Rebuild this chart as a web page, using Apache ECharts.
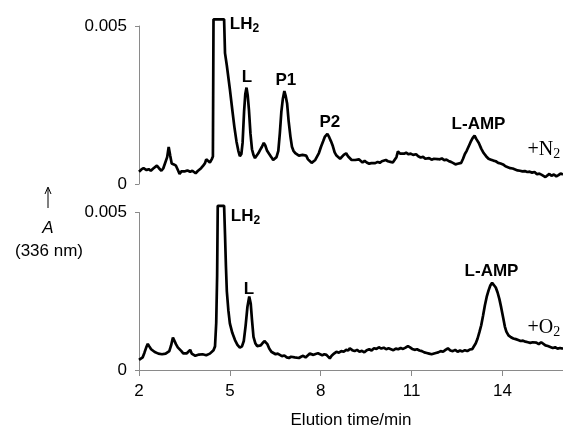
<!DOCTYPE html>
<html>
<head>
<meta charset="utf-8">
<style>html,body{margin:0;padding:0;background:#fff;}#c{width:563px;height:428px;}</style>
<script src="https://cdn.jsdelivr.net/npm/echarts@6/dist/echarts.min.js"></script>
</head>
<body>
<div id="c"></div>
<script>
// ---- Data ----
const xTicks = [2, 5, 8, 11, 14];
const yTicks = [0, 0.005];

// +N2 trace (upper)
const topTime = [2.00,2.08,2.15,2.25,2.32,2.39,2.47,2.53,2.59,2.66,2.74,2.80,2.86,2.93,2.98,3.03,3.08,3.15,3.22,3.28,3.34,3.40,3.45,3.52,3.60,3.69,3.76,3.82,3.87,3.94,4.00,4.05,4.12,4.18,4.22,4.28,4.34,4.40,4.44,4.46,4.81,4.84,4.90,5.00,5.08,5.15,5.22,5.28,5.33,5.38,5.42,5.47,5.51,5.55,5.59,5.63,5.68,5.73,5.78,5.83,5.88,5.94,6.00,6.06,6.12,6.17,6.23,6.30,6.37,6.43,6.48,6.54,6.60,6.65,6.70,6.75,6.80,6.84,6.89,6.94,7.00,7.05,7.10,7.16,7.22,7.28,7.34,7.40,7.46,7.52,7.58,7.64,7.70,7.76,7.82,7.88,7.94,8.01,8.08,8.14,8.22,8.28,8.34,8.40,8.46,8.52,8.58,8.64,8.70,8.76,8.84,8.90,8.96,9.02,9.08,9.14,9.20,9.26,9.32,9.38,9.45,9.52,9.60,9.67,9.73,9.80,9.88,9.95,10.02,10.08,10.15,10.22,10.30,10.38,10.44,10.50,10.55,10.62,10.68,10.75,10.82,10.90,10.97,11.05,11.15,11.22,11.30,11.38,11.45,11.51,11.58,11.66,11.74,11.80,11.86,11.93,12.00,12.08,12.15,12.22,12.30,12.38,12.45,12.52,12.58,12.64,12.70,12.76,12.82,12.88,12.95,13.02,13.08,13.14,13.22,13.30,13.38,13.46,13.54,13.62,13.70,13.78,13.86,13.94,14.02,14.10,14.18,14.26,14.34,14.42,14.50,14.58,14.66,14.74,14.82,14.90,14.98,15.06,15.14,15.22,15.30,15.36,15.42,15.48,15.55,15.62,15.70,15.78,15.85,15.92,16.00];
const topAbs = [0.00039,0.00046,0.00050,0.00044,0.00047,0.00042,0.00049,0.00046,0.00058,0.00050,0.00042,0.00049,0.00055,0.00085,0.00117,0.00090,0.00065,0.00062,0.00058,0.00045,0.00032,0.00040,0.00044,0.00040,0.00043,0.00039,0.00042,0.00036,0.00034,0.00041,0.00045,0.00050,0.00058,0.00066,0.00078,0.00072,0.00068,0.00078,0.00087,0.00521,0.00521,0.00414,0.00375,0.00300,0.00235,0.00180,0.00134,0.00105,0.00088,0.00095,0.00130,0.00230,0.00285,0.00305,0.00280,0.00235,0.00160,0.00110,0.00092,0.00082,0.00088,0.00097,0.00108,0.00118,0.00130,0.00122,0.00105,0.00095,0.00085,0.00076,0.00074,0.00085,0.00105,0.00160,0.00228,0.00270,0.00294,0.00280,0.00255,0.00200,0.00150,0.00118,0.00105,0.00098,0.00097,0.00090,0.00087,0.00092,0.00087,0.00090,0.00078,0.00074,0.00067,0.00072,0.00076,0.00080,0.00098,0.00118,0.00135,0.00150,0.00159,0.00148,0.00135,0.00120,0.00100,0.00090,0.00085,0.00080,0.00084,0.00092,0.00097,0.00088,0.00082,0.00076,0.00080,0.00076,0.00082,0.00078,0.00072,0.00068,0.00073,0.00068,0.00064,0.00066,0.00063,0.00066,0.00070,0.00067,0.00072,0.00071,0.00076,0.00072,0.00070,0.00068,0.00066,0.00085,0.00103,0.00096,0.00100,0.00096,0.00099,0.00094,0.00096,0.00092,0.00094,0.00088,0.00084,0.00086,0.00080,0.00078,0.00082,0.00077,0.00080,0.00083,0.00079,0.00078,0.00081,0.00075,0.00077,0.00073,0.00070,0.00066,0.00062,0.00064,0.00070,0.00067,0.00080,0.00095,0.00105,0.00118,0.00133,0.00146,0.00153,0.00142,0.00130,0.00112,0.00098,0.00088,0.00080,0.00077,0.00074,0.00072,0.00067,0.00065,0.00062,0.00056,0.00053,0.00050,0.00049,0.00046,0.00043,0.00042,0.00040,0.00041,0.00038,0.00039,0.00036,0.00038,0.00031,0.00033,0.00029,0.00024,0.00022,0.00028,0.00032,0.00026,0.00030,0.00024,0.00028,0.00033,0.00030];

// +O2 trace (lower)
const bottomTime = [2.00,2.06,2.12,2.18,2.24,2.29,2.34,2.40,2.46,2.52,2.58,2.64,2.70,2.76,2.82,2.88,2.94,3.00,3.06,3.12,3.17,3.22,3.28,3.34,3.40,3.46,3.52,3.58,3.64,3.69,3.74,3.80,3.86,3.92,3.98,4.04,4.10,4.16,4.22,4.28,4.34,4.40,4.46,4.51,4.55,4.58,4.60,4.81,4.84,4.87,4.90,4.95,5.00,5.08,5.17,5.25,5.33,5.40,5.46,5.52,5.58,5.64,5.69,5.73,5.78,5.84,5.90,5.96,6.02,6.08,6.14,6.19,6.24,6.30,6.37,6.44,6.51,6.58,6.65,6.72,6.80,6.88,6.95,7.02,7.08,7.14,7.20,7.28,7.35,7.42,7.50,7.57,7.64,7.69,7.76,7.83,7.91,7.98,8.05,8.12,8.19,8.25,8.30,8.36,8.44,8.52,8.60,8.68,8.76,8.84,8.91,8.96,9.04,9.12,9.20,9.28,9.36,9.44,9.52,9.60,9.68,9.76,9.84,9.92,10.00,10.08,10.16,10.24,10.32,10.40,10.48,10.56,10.64,10.72,10.80,10.88,10.95,11.02,11.10,11.18,11.26,11.34,11.42,11.50,11.58,11.66,11.72,11.80,11.88,11.96,12.04,12.12,12.20,12.28,12.36,12.44,12.52,12.60,12.68,12.76,12.84,12.92,13.00,13.06,13.12,13.18,13.24,13.30,13.36,13.42,13.48,13.54,13.60,13.66,13.72,13.78,13.84,13.90,13.96,14.02,14.08,14.13,14.20,14.28,14.36,14.44,14.52,14.60,14.68,14.76,14.84,14.92,15.00,15.06,15.12,15.20,15.28,15.34,15.42,15.50,15.58,15.66,15.74,15.82,15.90,16.00];
const bottomAbs = [0.00032,0.00030,0.00040,0.00055,0.00072,0.00083,0.00075,0.00066,0.00062,0.00057,0.00058,0.00052,0.00054,0.00050,0.00054,0.00052,0.00056,0.00060,0.00078,0.00103,0.00098,0.00082,0.00072,0.00066,0.00060,0.00053,0.00049,0.00053,0.00058,0.00064,0.00052,0.00048,0.00045,0.00051,0.00049,0.00047,0.00050,0.00045,0.00047,0.00044,0.00052,0.00058,0.00063,0.00075,0.00150,0.00300,0.00521,0.00521,0.00430,0.00330,0.00250,0.00190,0.00148,0.00118,0.00095,0.00080,0.00071,0.00075,0.00092,0.00140,0.00200,0.00233,0.00210,0.00160,0.00105,0.00085,0.00076,0.00074,0.00078,0.00085,0.00092,0.00095,0.00082,0.00068,0.00058,0.00054,0.00050,0.00052,0.00048,0.00044,0.00046,0.00040,0.00038,0.00042,0.00046,0.00040,0.00034,0.00038,0.00042,0.00045,0.00040,0.00046,0.00052,0.00055,0.00048,0.00051,0.00053,0.00050,0.00047,0.00050,0.00048,0.00042,0.00037,0.00045,0.00052,0.00058,0.00055,0.00060,0.00058,0.00064,0.00062,0.00069,0.00063,0.00060,0.00064,0.00058,0.00061,0.00056,0.00063,0.00066,0.00062,0.00069,0.00067,0.00072,0.00068,0.00071,0.00066,0.00069,0.00066,0.00063,0.00068,0.00066,0.00070,0.00067,0.00071,0.00076,0.00072,0.00067,0.00064,0.00066,0.00062,0.00060,0.00056,0.00054,0.00052,0.00050,0.00048,0.00054,0.00056,0.00060,0.00058,0.00064,0.00069,0.00062,0.00060,0.00064,0.00058,0.00062,0.00059,0.00063,0.00060,0.00065,0.00066,0.00072,0.00085,0.00100,0.00120,0.00142,0.00172,0.00205,0.00232,0.00252,0.00268,0.00277,0.00272,0.00262,0.00246,0.00225,0.00198,0.00168,0.00138,0.00122,0.00110,0.00104,0.00100,0.00098,0.00095,0.00092,0.00093,0.00090,0.00088,0.00086,0.00088,0.00092,0.00087,0.00082,0.00088,0.00084,0.00078,0.00076,0.00073,0.00070,0.00072,0.00068,0.00070,0.00068];

// Peak labels: [text, time, absorbance]
const topPeakLabels = [['L', 5.56, 0.00339], ['P1', 6.85, 0.00329], ['P2', 8.30, 0.00196], ['L-AMP', 13.21, 0.00190]];
const bottomPeakLabels = [['L', 5.63, 0.00257], ['L-AMP', 13.64, 0.00314]];

// ---- Chart ----
const SANS = "'Liberation Sans', Arial, Helvetica, sans-serif";
const SERIF = "'Liberation Serif', 'Times New Roman', serif";
const AXIS_GRAY = '#8a8a8a';
const FS = 17;

function zip(a, b) { return a.map((v, i) => [v, b[i]]); }

function peakPoints(list) {
  return list.map(([txt, t, v]) => ({
    coord: [t, v], value: txt,
    label: { formatter: txt, position: [0, 0], align: 'center', verticalAlign: 'middle' }
  }));
}

function subLabel(main, sub, t, v, dy, opts) {
  return {
    coord: [t, v],
    label: {
      position: [0, 0], align: 'left', verticalAlign: 'top', offset: [0, dy],
      formatter: '{m|' + main + '}{s|' + sub + '}',
      rich: {
        m: { fontFamily: opts.font, fontSize: opts.size, fontWeight: opts.weight, color: '#000', verticalAlign: 'top', lineHeight: opts.size },
        s: { fontFamily: opts.font, fontSize: opts.sub, fontWeight: opts.weight, color: '#000', verticalAlign: 'top', lineHeight: opts.sub, padding: [opts.drop, 0, 0, 0] }
      }
    }
  };
}

const boldLbl = { font: SANS, size: 17, sub: 12, weight: 'bold', drop: 7 };
const serifLbl = { font: SERIF, size: 20, sub: 14, weight: 'normal', drop: 8 };

function yAxisCfg(gi) {
  return {
    gridIndex: gi, type: 'value', min: 0, max: 0.005, interval: 0.005,
    axisLine: { show: true, lineStyle: { color: AXIS_GRAY, width: 1 } },
    axisTick: { show: true, length: 4, lineStyle: { color: AXIS_GRAY } },
    axisLabel: { color: '#000', fontFamily: SANS, fontSize: FS, margin: 12,
      customValues: yTicks, formatter: v => (v === 0 ? '0' : String(v)) },
    splitLine: { show: false }
  };
}

function markCfg(points) {
  return {
    symbol: 'circle', symbolSize: 0, silent: true,
    itemStyle: { color: 'rgba(0,0,0,0)' },
    label: { show: true, color: '#000', fontFamily: SANS, fontSize: 17, fontWeight: 'bold' },
    data: points
  };
}

const chart = echarts.init(document.getElementById('c'), null, { renderer: 'canvas' });
chart.setOption({
  animation: false,
  backgroundColor: '#fff',
  grid: [
    { left: 139, right: 0, top: 26, height: 158, containLabel: false, outerBoundsMode: 'none' },
    { left: 139, right: 0, top: 212.5, height: 157.5, containLabel: false, outerBoundsMode: 'none' }
  ],
  xAxis: [
    { gridIndex: 0, type: 'value', min: 2, max: 16, show: false },
    { gridIndex: 1, type: 'value', min: 2, max: 16, interval: 3,
      axisLine: { show: true, onZero: false, lineStyle: { color: AXIS_GRAY, width: 1 } },
      axisTick: { show: true, length: 6, customValues: xTicks, lineStyle: { color: AXIS_GRAY } },
      axisLabel: { color: '#000', fontFamily: SANS, fontSize: FS, margin: 13, customValues: xTicks },
      splitLine: { show: false },
      name: 'Elution time/min', nameLocation: 'middle', nameGap: 42,
      nameTextStyle: { color: '#000', fontFamily: SANS, fontSize: FS }
    }
  ],
  yAxis: [yAxisCfg(0), yAxisCfg(1)],
  series: [
    { type: 'line', xAxisIndex: 0, yAxisIndex: 0, data: zip(topTime, topAbs),
      showSymbol: false, clip: false, lineStyle: { color: '#000', width: 2.7 }, z: 3,
      markPoint: markCfg(peakPoints(topPeakLabels).concat([
        subLabel('LH', '2', 5.00, 0.005, -10, boldLbl),
        subLabel('+N', '2', 14.83, 0.00140, 0, serifLbl)
      ]))
    },
    { type: 'line', xAxisIndex: 1, yAxisIndex: 1, data: zip(bottomTime, bottomAbs),
      showSymbol: false, clip: false, lineStyle: { color: '#000', width: 2.7 }, z: 3,
      markPoint: markCfg(peakPoints(bottomPeakLabels).concat([
        subLabel('LH', '2', 5.03, 0.005, -5, boldLbl),
        subLabel('+O', '2', 14.83, 0.00166, 0, serifLbl)
      ]))
    }
  ],
  graphic: [
    { type: 'line', shape: { x1: 48, y1: 208, x2: 48, y2: 188 }, style: { stroke: '#000', lineWidth: 1 } },
    { type: 'polyline', shape: { points: [[45, 194], [48, 187], [51, 194]] }, style: { stroke: '#000', lineWidth: 1, fill: null } },
    { type: 'text', x: 48, y: 228, style: { text: 'A', fontFamily: SANS, fontSize: FS, fontStyle: 'italic', fill: '#000', align: 'center', verticalAlign: 'middle' } },
    { type: 'text', x: 49, y: 251.5, style: { text: '(336 nm)', fontFamily: SANS, fontSize: FS, fill: '#000', align: 'center', verticalAlign: 'middle' } }
  ]
});
</script>
</body>
</html>
